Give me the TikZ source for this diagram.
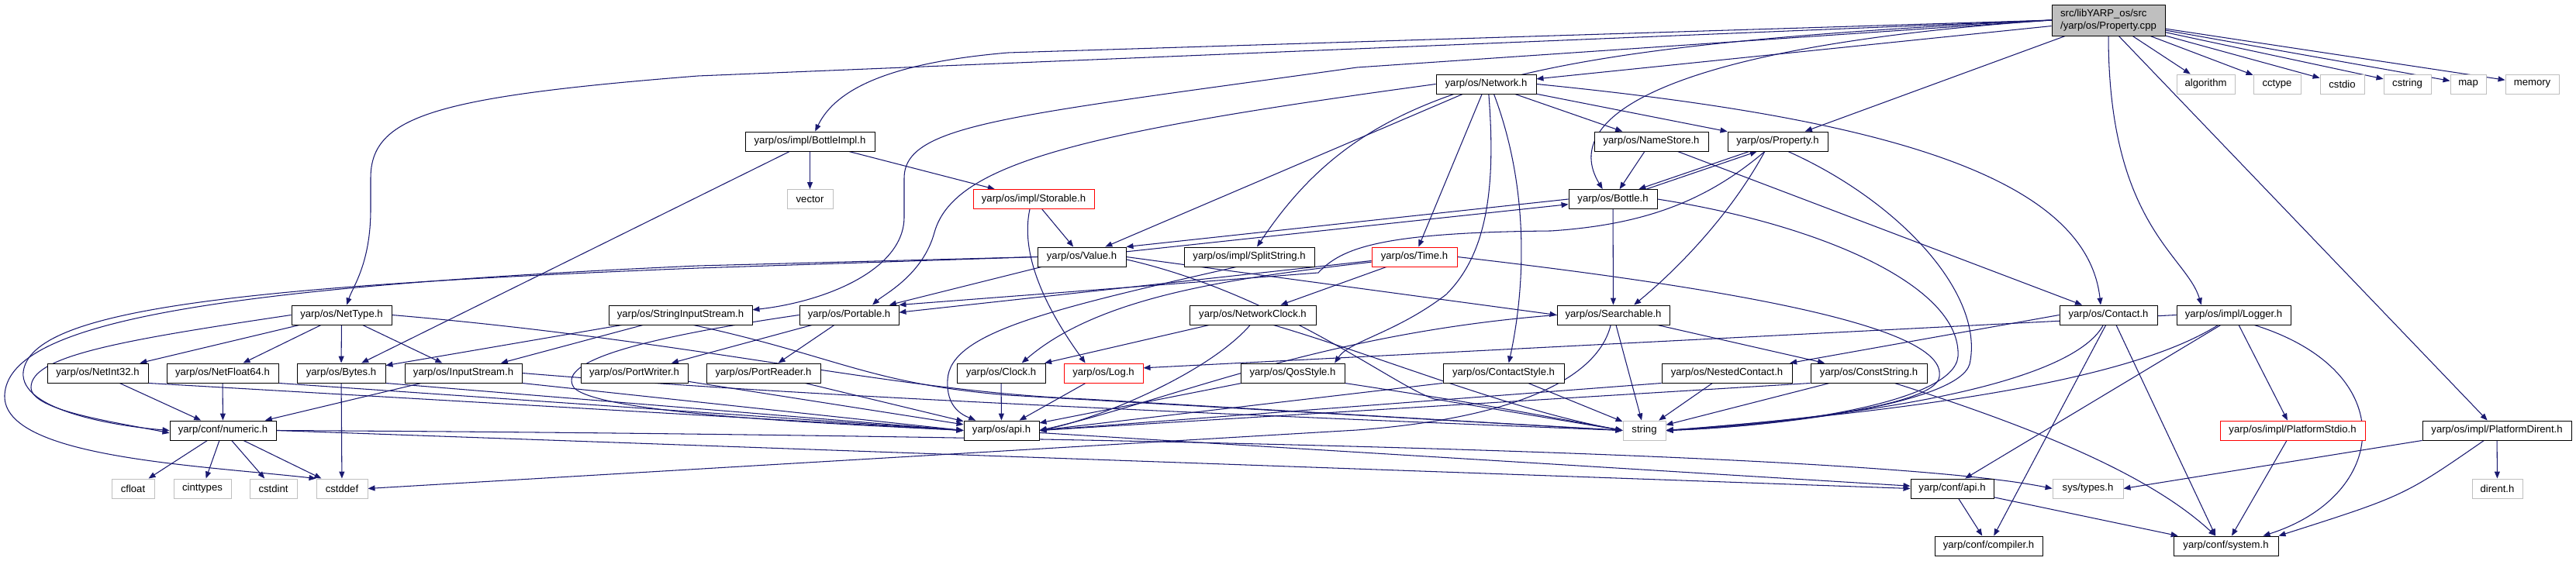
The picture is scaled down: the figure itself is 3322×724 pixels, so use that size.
\documentclass[tikz,border=0pt]{standalone}
\usepackage{fontspec}
\setmainfont{Liberation Sans}
\usetikzlibrary{arrows.meta}
\definecolor{EdgeBlue}{HTML}{191970}
\definecolor{SysGray}{HTML}{BFBFBF}
\definecolor{MissRed}{HTML}{FF0000}
\pgfdeclarelayer{edges}
\pgfsetlayers{edges,main}

\begin{document}
\begin{tikzpicture}[
    x=0.3mm, y=-0.3mm,
    header/.style={
        rectangle,
        draw=black,
        fill=white,
        line width=0.8pt,
        minimum height=7.5mm,
        inner sep=1pt,
        font=\fontsize{11.2}{13}\selectfont
    },
    syshdr/.style={header, draw=SysGray},
    misshdr/.style={header, draw=MissRed},
    srcfile/.style={header, fill=SysGray, align=left, minimum height=12mm},
    incl/.style={-{Triangle[length=2.7mm,width=2.1mm]}, line width=0.9pt, draw=EdgeBlue}
]
    \useasboundingbox (0,0) rectangle (3322,724);

    \node[srcfile, minimum width=43.8mm] (cpp) at (2719,26) {src/libYARP\_os/src\\/yarp/os/Property.cpp};

    \node[header, minimum width=38.7mm] (network) at (1916.5,108.5) {yarp/os/Network.h};
    \node[syshdr, minimum width=22.5mm] (algorithm) at (2844.5,108.5) {algorithm};
    \node[syshdr, minimum width=18.3mm] (cctype) at (2936.5,108.5) {cctype};
    \node[syshdr, minimum width=17.1mm] (cstdio) at (3020.5,108.5) {cstdio};
    \node[syshdr, minimum width=18.3mm] (cstring) at (3104.5,108.5) {cstring};
    \node[syshdr, minimum width=13.8mm] (map) at (3183,108.5) {map};
    \node[syshdr, minimum width=20.7mm] (memory) at (3265.5,108.5) {memory};

    \node[header, minimum width=50.1mm] (bottleimpl) at (1044.5,182.5) {yarp/os/impl/BottleImpl.h};
    \node[header, minimum width=44.1mm] (namestore) at (2129.5,182.5) {yarp/os/NameStore.h};
    \node[header, minimum width=38.7mm] (propertyh) at (2292.5,182.5) {yarp/os/Property.h};

    \node[syshdr, minimum width=17.7mm] (vector) at (1044.5,257) {vector};
    \node[misshdr, minimum width=46.8mm] (storable) at (1333,257) {yarp/os/impl/Storable.h};
    \node[header, minimum width=34.2mm] (bottle) at (2080,257) {yarp/os/Bottle.h};

    \node[header, minimum width=34.2mm] (value) at (1395,331.5) {yarp/os/Value.h};
    \node[header, minimum width=50.4mm] (splitstring) at (1611,331.5) {yarp/os/impl/SplitString.h};
    \node[misshdr, minimum width=33mm] (time) at (1824,331.5) {yarp/os/Time.h};

    \node[header, minimum width=38.7mm] (nettype) at (440.5,406.5) {yarp/os/NetType.h};
    \node[header, minimum width=55.5mm] (stringinput) at (877.5,406.5) {yarp/os/StringInputStream.h};
    \node[header, minimum width=38.4mm] (portable) at (1095,406.5) {yarp/os/Portable.h};
    \node[header, minimum width=48.9mm] (networkclock) at (1615.5,406.5) {yarp/os/NetworkClock.h};
    \node[header, minimum width=43.5mm] (searchable) at (2080.5,406.5) {yarp/os/Searchable.h};
    \node[header, minimum width=37.8mm] (contact) at (2719,406.5) {yarp/os/Contact.h};
    \node[header, minimum width=44.1mm] (logger) at (2880.5,406.5) {yarp/os/impl/Logger.h};

    \node[header, minimum width=39mm] (netint32) at (126,481.5) {yarp/os/NetInt32.h};
    \node[header, minimum width=43.2mm] (netfloat64) at (287,481.5) {yarp/os/NetFloat64.h};
    \node[header, minimum width=34.2mm] (bytes) at (440,481.5) {yarp/os/Bytes.h};
    \node[header, minimum width=45.3mm] (inputstream) at (597.5,481.5) {yarp/os/InputStream.h};
    \node[header, minimum width=41.4mm] (portwriter) at (818,481.5) {yarp/os/PortWriter.h};
    \node[header, minimum width=44.1mm] (portreader) at (984.5,481.5) {yarp/os/PortReader.h};
    \node[header, minimum width=34.2mm] (clock) at (1291,481.5) {yarp/os/Clock.h};
    \node[misshdr, minimum width=30.6mm] (log) at (1423,481.5) {yarp/os/Log.h};
    \node[header, minimum width=40.2mm] (qosstyle) at (1667,481.5) {yarp/os/QosStyle.h};
    \node[header, minimum width=46.8mm] (contactstyle) at (1939,481.5) {yarp/os/ContactStyle.h};
    \node[header, minimum width=50.4mm] (nestedcontact) at (2227,481.5) {yarp/os/NestedContact.h};
    \node[header, minimum width=45mm] (conststring) at (2410,481.5) {yarp/os/ConstString.h};

    \node[header, minimum width=41.1mm] (numeric) at (287.5,555.5) {yarp/conf/numeric.h};
    \node[header, minimum width=29.1mm] (osapi) at (1291.5,555.5) {yarp/os/api.h};
    \node[syshdr, minimum width=16.5mm] (string) at (2120.5,555.5) {string};
    \node[misshdr, minimum width=56.1mm] (platformstdio) at (2956.5,555.5) {yarp/os/impl/PlatformStdio.h};
    \node[header, minimum width=57.6mm] (platformdirent) at (3220,555.5) {yarp/os/impl/PlatformDirent.h};

    \node[syshdr, minimum width=16.5mm] (cfloat) at (171.5,630.5) {cfloat};
    \node[syshdr, minimum width=22.2mm] (cinttypes) at (261,630.5) {cinttypes};
    \node[syshdr, minimum width=18.3mm] (cstdint) at (352.5,630.5) {cstdint};
    \node[syshdr, minimum width=19.8mm] (cstddef) at (441,630.5) {cstddef};
    \node[header, minimum width=32.1mm] (confapi) at (2517.5,630.5) {yarp/conf/api.h};
    \node[syshdr, minimum width=27.3mm] (systypes) at (2692.5,630.5) {sys/types.h};
    \node[syshdr, minimum width=19.5mm] (dirent) at (3220.5,630.5) {dirent.h};

    \node[header, minimum width=41.7mm] (compiler) at (2564.5,704.5) {yarp/conf/compiler.h};
    \node[header, minimum width=40.5mm] (system) at (2870.5,704.5) {yarp/conf/system.h};

    \begin{pgfonlayer}{edges}
    \draw[incl] (cpp) -- (algorithm);
    \draw[incl] (cpp) -- (cctype);
    \draw[incl] (cpp) -- (cstdio);
    \draw[incl] (cpp) -- (cstring);
    \draw[incl] (cpp) -- (map);
    \draw[incl] (cpp) -- (memory);
    \draw[incl] (cpp) -- (network);
    \draw[incl] (cpp) -- (propertyh);
    \draw[incl] ([xshift=4mm]cpp.south) -- (platformdirent);
    \draw[incl] (cpp.south) .. controls (2719,290) and (2820,330) .. ([xshift=-12.5mm]logger.north);
    \draw[incl] (cpp.west) .. controls (2150,60) and (2010,150) .. ([xshift=-4mm]bottle.north);
    \draw[incl] (cpp.west) .. controls (1950,60) and (1760,110) .. ([xshift=3mm]splitstring.north);
    \draw[incl] (cpp.west) -- (1750,87) .. controls (1300,150) and (1166,160) .. (1166,230) -- (1166,280) .. controls (1166,350) and (1060,390) .. ([yshift=2mm]stringinput.east);
    \draw[incl] (cpp.west) -- (1300,68) .. controls (1160,80) and (1080,110) .. ([xshift=2mm]bottleimpl.north);
    \draw[incl] (cpp.west) -- (900,98) .. controls (560,125) and (478,150) .. (478,230) -- (478,270) .. controls (478,340) and (455,370) .. ([xshift=2mm]nettype.north);

    \draw[incl] (network) -- (namestore);
    \draw[incl] (network) -- (propertyh);
    \draw[incl] (network) -- (value);
    \draw[incl] (network) -- (time);
    \draw[incl] (network.west) .. controls (1400,170) and (1230,210) .. (1205,300) .. controls (1190,355) and (1140,380) .. ([xshift=9mm]portable.north);
    \draw[incl] ([xshift=1mm]network.south) .. controls (1930,250) and (1915,330) .. (1865,380) .. controls (1800,430) and (1740,440) .. ([xshift=-4mm]qosstyle.north east);
    \draw[incl] ([xshift=3mm]network.south) .. controls (1975,250) and (1965,380) .. ([xshift=2mm]contactstyle.north);
    \draw[incl] (network.east) .. controls (2400,150) and (2690,220) .. ([xshift=-3mm]contact.north);

    \draw[incl] (namestore) -- (bottle);
    \draw[incl] (namestore) -- (contact);

    \draw[incl] ([xshift=-11mm]propertyh.south) -- ([xshift=10mm]bottle.north);
    \draw[incl] ([xshift=13mm]bottle.north) -- ([xshift=-8mm]propertyh.south);
    \draw[incl] ([xshift=-5mm]propertyh.south) .. controls (2230,280) and (2160,350) .. ([xshift=8mm]searchable.north);
    \draw[incl] ([xshift=-5mm]propertyh.south) .. controls (2200,260) and (2120,290) .. (2000,298) .. controls (1780,300) and (1730,320) .. (1700,352) -- (portable.north east);
    \draw[incl] ([xshift=4mm]propertyh.south) .. controls (2450,260) and (2560,380) .. (2540,470) .. controls (2525,520) and (2300,550) .. (string.east);

    \draw[incl] (bottle) -- (searchable);
    \draw[incl] (bottle.west) -- (value.north east);
    \draw[incl] ([yshift=2mm]value.east) -- ([yshift=-2mm]bottle.west);
    \draw[incl] (bottle.east) .. controls (2350,290) and (2530,370) .. (2525,460) .. controls (2520,520) and (2300,550) .. (string.east);

    \draw[incl] (bottleimpl) -- (vector);
    \draw[incl] (bottleimpl) -- (storable);
    \draw[incl] (bottleimpl) -- (bytes);
    \draw[incl] (storable) -- (value);
    \draw[incl] ([xshift=-1.5mm]storable.south) .. controls (1315,330) and (1350,400) .. ([xshift=-7mm]log.north);

    \draw[incl] (value) -- (portable);
    \draw[incl] (value.east) -- (searchable.west);
    \draw[incl] ([yshift=-1mm]value.east) .. controls (1650,380) and (1800,500) .. (1850,515) -- (string.west);
    \draw[incl] (value.west) -- (900,346) .. controls (300,370) and (40,400) .. (30,480) .. controls (25,530) and (150,550) .. (numeric.west);
    \draw[incl] (value.west) -- (900,343) .. controls (250,372) and (10,420) .. (6,510) .. controls (3,590) and (250,600) .. (cstddef.north west);

    \draw[incl] ([xshift=-5mm]splitstring.south) .. controls (1350,400) and (1225,430) .. (1222,490) .. controls (1220,525) and (1240,535) .. ([xshift=-10mm]osapi.north);

    \draw[incl] (time) -- (networkclock);
    \draw[incl] ([yshift=-1.5mm]time.west) -- ([yshift=1mm]portable.east);
    \draw[incl] ([yshift=-2mm]time.west) .. controls (1600,358) and (1420,380) .. ([xshift=8mm]clock.north);
    \draw[incl] (time.east) .. controls (2300,380) and (2520,430) .. (2500,490) .. controls (2480,530) and (2250,550) .. (string.east);

    \draw[incl] (nettype) -- (netint32);
    \draw[incl] (nettype) -- (netfloat64);
    \draw[incl] (nettype) -- (bytes);
    \draw[incl] (nettype) -- (inputstream);
    \draw[incl] (nettype.west) .. controls (150,440) and (40,460) .. (40,500) .. controls (40,530) and (150,545) .. ([yshift=-1mm]numeric.west);
    \draw[incl] (nettype.east) .. controls (900,440) and (1150,505) .. (1400,515) -- (string.west);

    \draw[incl] (stringinput) -- (bytes);
    \draw[incl] (stringinput) -- (inputstream);
    \draw[incl] ([xshift=5mm]stringinput.south) .. controls (1080,460) and (1120,495) .. (1300,510) -- (string.west);

    \draw[incl] (portable) -- (portwriter);
    \draw[incl] (portable) -- (portreader);
    \draw[incl] (portable.west) .. controls (800,440) and (720,470) .. (740,500) .. controls (770,535) and (1100,548) .. (osapi.west);

    \draw[incl] (networkclock) -- (clock);
    \draw[incl] ([xshift=-1mm]networkclock.south) .. controls (1560,480) and (1420,540) .. (osapi.east);
    \draw[incl] ([xshift=8mm]networkclock.south) .. controls (1780,460) and (1950,530) .. (string.west);

    \draw[incl] (searchable) -- (string);
    \draw[incl] (searchable) -- (conststring);
    \draw[incl] (searchable.west) .. controls (1700,430) and (1500,520) .. (osapi.east);
    \draw[incl] ([xshift=-1mm]searchable.south) .. controls (2060,490) and (1950,540) .. (1750,555) -- (cstddef.east);

    \draw[incl] (contact.west) -- ([xshift=-1mm]nestedcontact.north east);
    \draw[incl] ([xshift=-2mm]contact.south) .. controls (2680,480) and (2500,530) .. (string.east);
    \draw[incl] ([xshift=-1mm]contact.south) -- ([xshift=2mm]compiler.north);
    \draw[incl] ([xshift=3mm]contact.south) -- ([xshift=-4mm]system.north);

    \draw[incl] (logger.west) -- ([yshift=2mm]log.east);
    \draw[incl] (logger) -- (platformstdio);
    \draw[incl] ([xshift=8mm]logger.south) .. controls (3100,480) and (3080,640) .. ([xshift=-6mm]system.north east);
    \draw[incl] ([xshift=-5mm]logger.south) -- ([xshift=5mm]confapi.north);
    \draw[incl] ([xshift=-6mm]logger.south) .. controls (2780,470) and (2600,520) .. (string.east);

    \draw[incl] (netint32) -- (numeric);
    \draw[incl] (netint32.south east) -- (osapi.west);
    \draw[incl] (netfloat64) -- (numeric);
    \draw[incl] (netfloat64.south east) -- (osapi.west);
    \draw[incl] (bytes) -- (cstddef);
    \draw[incl] (bytes.south east) -- (osapi.west);
    \draw[incl] (inputstream) -- (numeric);
    \draw[incl] (inputstream.south east) -- (osapi.west);
    \draw[incl] (inputstream.east) .. controls (900,500) and (1200,520) .. (string.west);
    \draw[incl] (portwriter) -- (osapi);
    \draw[incl] (portreader) -- (osapi);
    \draw[incl] (clock) -- (osapi);
    \draw[incl] (log) -- (osapi);
    \draw[incl] (qosstyle) -- (osapi);
    \draw[incl] (qosstyle.south east) .. controls (1900,520) .. (string.west);
    \draw[incl] (contactstyle.south west) -- (osapi.east);
    \draw[incl] (contactstyle) -- (string);
    \draw[incl] (nestedcontact.south west) -- (osapi.east);
    \draw[incl] (nestedcontact) -- (string);
    \draw[incl] (conststring) -- (string);
    \draw[incl] (conststring.south west) -- (osapi.east);
    \draw[incl] ([xshift=10mm]conststring.south) .. controls (2650,560) and (2780,620) .. ([xshift=-4mm]system.north);

    \draw[incl] (numeric) -- (cfloat);
    \draw[incl] (numeric) -- (cinttypes);
    \draw[incl] (numeric) -- (cstdint);
    \draw[incl] (numeric) -- (cstddef);
    \draw[incl] (numeric.east) -- (confapi.west);
    \draw[incl] (numeric.east) .. controls (1200,560) and (2400,580) .. (systypes.west);
    \draw[incl] (osapi) -- (confapi);
    \draw[incl] (confapi) -- (compiler);
    \draw[incl] (confapi) -- (system);
    \draw[incl] (platformstdio) -- (system);
    \draw[incl] (platformdirent.south west) -- (systypes.east);
    \draw[incl] (platformdirent) -- (dirent);
    \draw[incl] ([xshift=-5mm]platformdirent.south) .. controls (3100,640) .. (system.north east);
    \end{pgfonlayer}
\end{tikzpicture}
\end{document}
